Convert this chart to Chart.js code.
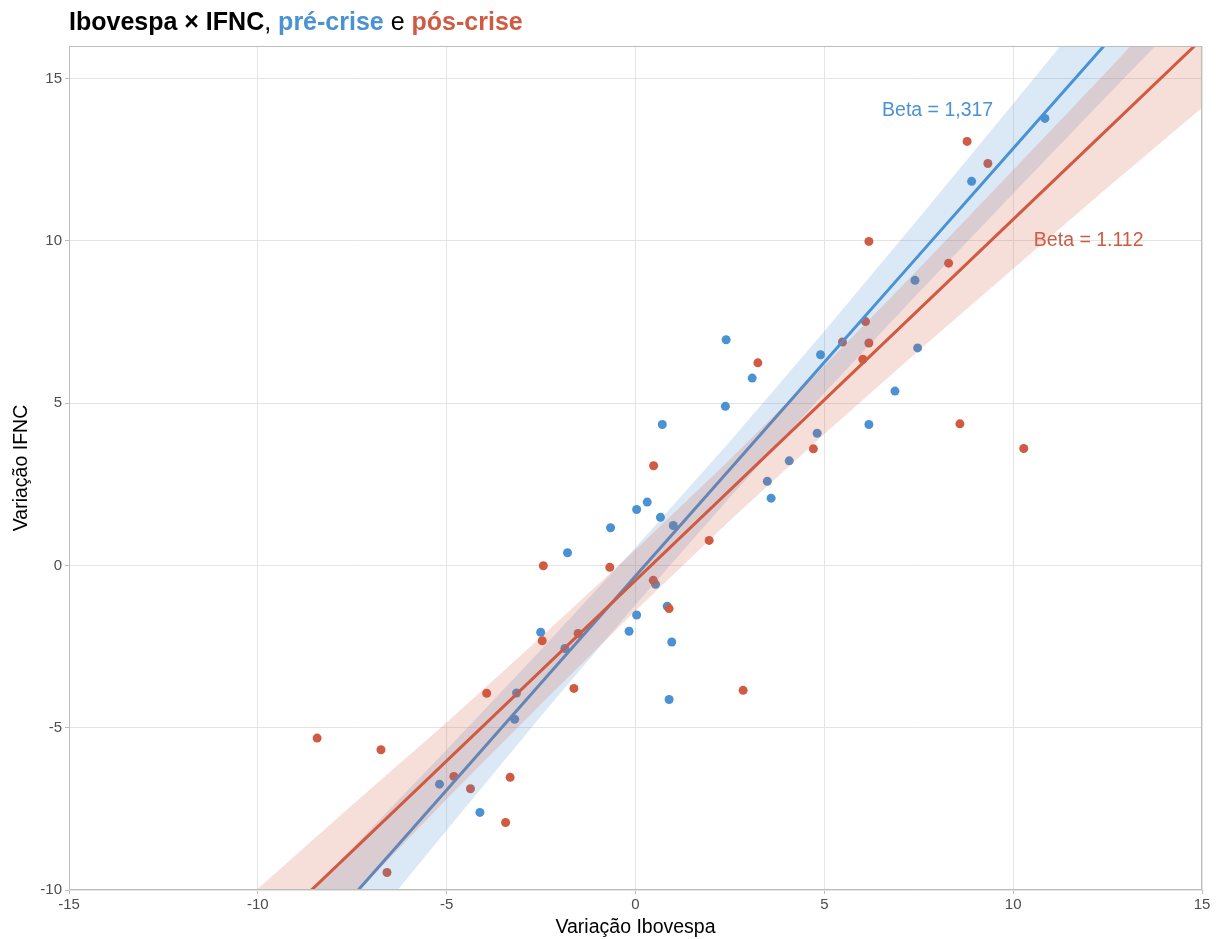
<!DOCTYPE html>
<html><head><meta charset="utf-8">
<script src="https://cdn.jsdelivr.net/npm/chart.js@4.4.1/dist/chart.umd.min.js"></script>
<style>
html,body{margin:0;padding:0;background:#fff;}
#wrap{position:relative;width:1224px;height:939px;}
#title{position:absolute;left:69px;top:6px;font:bold 25px 'Liberation Sans',Arial,sans-serif;line-height:30px;white-space:nowrap;color:#000;}
.pre{color:#4A92D3}.pos{color:#D05A42}.n{font-weight:normal}
</style></head><body>
<div id="wrap"><canvas id="c" width="1224" height="939"></canvas>
<div id="title">Ibovespa × IFNC<span class="n">, </span><span class="pre">pré-crise</span><span class="n"> e </span><span class="pos">pós-crise</span></div></div>
<script>
// ---- data ----
const preX = [10.84, 8.90, 7.40, 7.47, 4.90, 6.87, 6.18, 4.81, 4.07, 3.49, 3.59, 2.40, 3.09, 2.38, 0.71, 0.31, 0.03, 0.66, 1.00, -0.66, -1.80, 0.53, 0.84, 0.03, -0.17, 0.96, 0.89, -2.51, -1.87, -3.15, -3.20, -5.19, -4.12];
const preY = [13.77, 11.83, 8.78, 6.70, 6.49, 5.37, 4.34, 4.07, 3.22, 2.59, 2.07, 6.95, 5.77, 4.90, 4.34, 1.95, 1.72, 1.48, 1.23, 1.16, 0.39, -0.58, -1.26, -1.53, -2.03, -2.36, -4.13, -2.06, -2.56, -3.93, -4.74, -6.74, -7.61];
const postX = [8.78, 9.33, 6.18, 8.29, 6.09, 5.48, 6.18, 6.02, 3.24, 8.59, 10.28, 4.71, 0.48, 1.95, -0.68, -2.44, 0.47, 0.89, -1.52, -2.47, -1.63, -3.94, 2.85, -8.43, -6.74, -3.32, -4.81, -4.37, -3.44, -6.58];
const postY = [13.06, 12.38, 9.98, 9.31, 7.51, 6.88, 6.85, 6.35, 6.24, 4.36, 3.60, 3.59, 3.07, 0.77, -0.06, -0.01, -0.46, -1.33, -2.10, -2.32, -3.79, -3.94, -3.85, -5.32, -5.68, -6.53, -6.50, -6.88, -7.92, -9.46];

const fitX   = [-15, -12.5, -10, -7.5, -5, -2.5, 0, 2.5, 5, 7.5, 10, 12.5, 15];
const preFit = [-20.09, -16.79, -13.50, -10.21, -6.92, -3.62, -0.33, 2.96, 6.26, 9.55, 12.84, 16.13, 19.43];
const preHi  = [-17.72, -14.72, -11.73, -8.72, -5.68, -2.60, 0.55, 3.82, 7.21, 10.69, 14.22, 17.78, 21.37];
const preLo  = [-22.46, -18.86, -15.27, -11.70, -8.16, -4.64, -1.21, 2.10, 5.31, 8.41, 11.46, 14.48, 17.49];
const postFit= [-17.14, -14.36, -11.58, -8.80, -6.02, -3.24, -0.46, 2.32, 5.10, 7.88, 10.66, 13.44, 16.22];
const postHi = [-14.84, -12.44, -9.96, -7.38, -4.84, -2.21, 0.48, 3.26, 6.15, 9.14, 12.18, 15.24, 18.34];
const postLo = [-19.44, -16.28, -13.20, -10.22, -7.20, -4.27, -1.40, 1.38, 4.05, 6.62, 9.14, 11.64, 14.10];

const xTicks = [-15, -10, -5, 0, 5, 10, 15];
const yTicks = [-10, -5, 0, 5, 10, 15];
const annotText = ['Beta = 1,317', 'Beta = 1.112'];
const annotX = [8, 12];
const annotY = [14, 10];

// ---- styles ----
const BLUE = '#4A92D3', RED = '#D05A42';
const BLUE_BAND = 'rgba(74,146,211,0.2)', RED_BAND = 'rgba(208,90,66,0.2)';
const FONT = "'Liberation Sans', Arial, sans-serif";
const pts = (xs, ys) => xs.map((x, i) => ({x, y: ys[i]}));

const lineDs = (label, ys, color, width, fill, bg) => ({
  type: 'line', label, data: pts(fitX, ys), borderColor: color, borderWidth: width,
  pointRadius: 0, fill: fill, backgroundColor: bg, clip: 0, tension: 0
});

const overlay = {
  id: 'overlay',
  afterDatasetsDraw(chart) {
    const {ctx, chartArea: a, scales} = chart;
    ctx.save();
    ctx.font = '19.5px ' + FONT;
    ctx.textAlign = 'center';
    ctx.textBaseline = 'middle';
    const cols = [BLUE, RED];
    annotText.forEach((t, i) => {
      ctx.fillStyle = cols[i];
      ctx.fillText(t, scales.x.getPixelForValue(annotX[i]), scales.y.getPixelForValue(annotY[i]));
    });
    ctx.strokeStyle = '#BDBDBD';
    ctx.lineWidth = 1;
    ctx.strokeRect(Math.round(a.left) + 0.5, Math.round(a.top) + 0.5,
                   Math.round(a.right - a.left) - 1, Math.round(a.bottom - a.top) - 1);
    ctx.restore();
  }
};

new Chart(document.getElementById('c'), {
  type: 'scatter',
  data: {
    datasets: [
      lineDs('postLine', postFit, RED, 3, false),
      lineDs('postHi', postHi, 'rgba(0,0,0,0)', 0, '+1', RED_BAND),
      lineDs('postLo', postLo, 'rgba(0,0,0,0)', 0, false),
      lineDs('preLine', preFit, BLUE, 3, false),
      lineDs('preHi', preHi, 'rgba(0,0,0,0)', 0, '+1', BLUE_BAND),
      lineDs('preLo', preLo, 'rgba(0,0,0,0)', 0, false),
      {label: 'pós-crise', data: pts(postX, postY), backgroundColor: RED, borderWidth: 0, pointRadius: 4.5},
      {label: 'pré-crise', data: pts(preX, preY), backgroundColor: BLUE, borderWidth: 0, pointRadius: 4.5}
    ]
  },
  options: {
    responsive: false,
    animation: false,
    devicePixelRatio: 1,
    events: [],
    layout: {padding: {top: 46, right: 22, left: 0, bottom: 0}},
    plugins: {
      legend: {display: false},
      tooltip: {enabled: false},
      filler: {drawTime: 'beforeDatasetDraw'}
    },
    scales: {
      x: {
        type: 'linear', min: -15, max: 15,
        afterBuildTicks: s => { s.ticks = xTicks.map(v => ({value: v})); },
        afterFit: s => { s.height = 49; },
        ticks: {color: '#4D4D4D', font: {family: FONT, size: 15}, padding: 2, maxRotation: 0},
        grid: {color: '#E4E4E4', lineWidth: 1, tickLength: 4, tickColor: '#BDBDBD', drawTicks: true},
        border: {display: false},
        title: {display: true, text: 'Variação Ibovespa', color: '#000', font: {family: FONT, size: 19.5}, padding: {top: 0, bottom: 0}}
      },
      y: {
        type: 'linear', min: -10, max: 16,
        afterBuildTicks: s => { s.ticks = yTicks.map(v => ({value: v})); },
        afterFit: s => { s.width = 69; },
        ticks: {color: '#4D4D4D', font: {family: FONT, size: 15}, padding: 3},
        grid: {color: '#E4E4E4', lineWidth: 1, tickLength: 4, tickColor: '#BDBDBD', drawTicks: true},
        border: {display: false},
        title: {display: true, text: 'Variação IFNC', color: '#000', font: {family: FONT, size: 19.5}, padding: {top: 10, bottom: 0}}
      }
    }
  },
  plugins: [overlay]
});
</script>
</body></html>
